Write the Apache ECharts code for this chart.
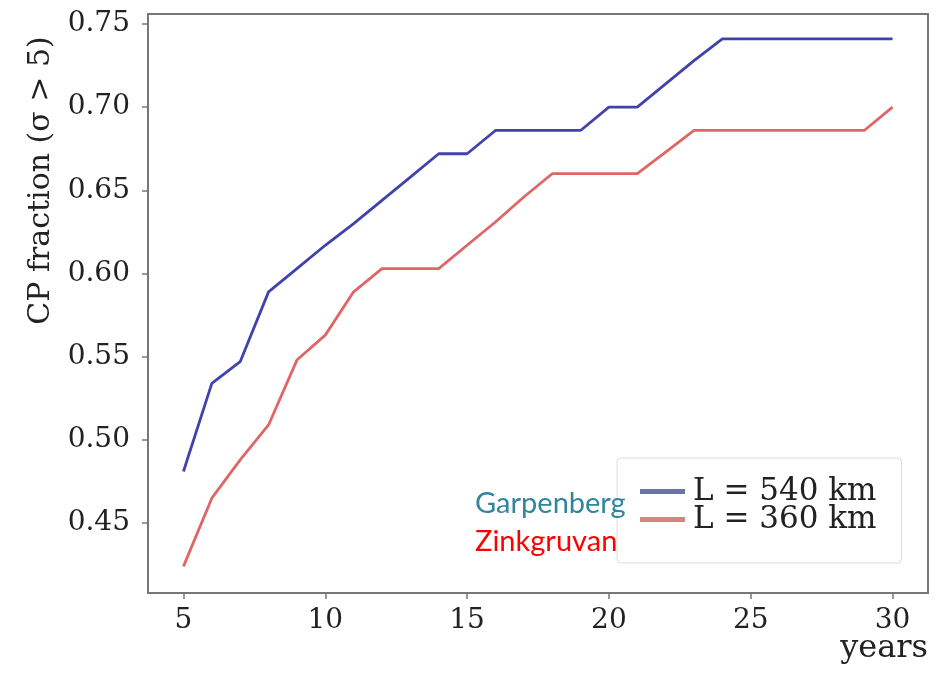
<!DOCTYPE html>
<html>
<head>
<meta charset="utf-8">
<script src="https://cdn.jsdelivr.net/npm/echarts@6/dist/echarts.min.js"></script>
<style>html,body{margin:0;padding:0;background:#fff}#c{width:942px;height:673px}</style>
</head>
<body>
<div id="c"></div>
<script>
const years = [5,6,7,8,9,10,11,12,13,14,15,16,17,18,19,20,21,22,23,24,25,26,27,28,29,30];
const garpenberg540 = [0.481,0.534,0.547,0.589,0.603,0.617,0.630,0.644,0.658,0.672,0.672,0.686,0.686,0.686,0.686,0.700,0.700,0.714,0.728,0.741,0.741,0.741,0.741,0.741,0.741,0.741];
const zinkgruvan360 = [0.424,0.465,0.488,0.509,0.548,0.563,0.589,0.603,0.603,0.603,0.617,0.631,0.646,0.660,0.660,0.660,0.660,0.673,0.686,0.686,0.686,0.686,0.686,0.686,0.686,0.700];
const xTicks = [5,10,15,20,25,30];
const yTicks = [0.45,0.50,0.55,0.60,0.65,0.70,0.75];
const seriesNames = ['L = 540 km','L = 360 km'];

const chart = echarts.init(document.getElementById('c'), null, {renderer:'canvas'});
const serif = 'DejaVu Serif';
const frame = '#777777';
chart.setOption({
  animation:false,
  backgroundColor:'#ffffff',
  grid:{left:148,right:14,top:14,bottom:80,containLabel:false,outerBoundsMode:'none',show:true,borderColor:frame,borderWidth:2,backgroundColor:'transparent'},
  xAxis:{
    type:'value',min:3.75,max:31.25,
    name:'years',nameLocation:'end',nameGap:0,nameMoveOverlap:false,
    nameTextStyle:{fontFamily:serif,fontSize:32,color:'#222',align:'right',verticalAlign:'top',padding:[40,0,0,0]},
    axisLine:{show:false},
    splitLine:{show:false},
    axisTick:{show:true,customValues:xTicks,length:6,lineStyle:{color:frame,width:1.5}},
    axisLabel:{customValues:xTicks,fontFamily:serif,fontSize:28,color:'#222',margin:14}
  },
  yAxis:{
    type:'value',min:0.408,max:0.756,
    name:'CP fraction (σ > 5)',nameLocation:'middle',nameGap:92,nameMoveOverlap:false,
    nameTextStyle:{fontFamily:serif,fontSize:30,color:'#222',padding:[0,0,0,246]},
    axisLine:{show:false},
    splitLine:{show:false},
    axisTick:{show:true,customValues:yTicks,length:6,lineStyle:{color:frame,width:1.5}},
    axisLabel:{customValues:yTicks,fontFamily:serif,fontSize:28,color:'#222',margin:18,formatter:v=>v.toFixed(2)}
  },
  legend:{
    orient:'vertical',left:617,top:458,
    padding:[18,25,28,23],itemGap:-3,
    itemWidth:45,itemHeight:5,icon:'rect',
    borderColor:'#dddddd',borderWidth:1,borderRadius:4,backgroundColor:'rgba(255,255,255,0.85)',
    textStyle:{fontFamily:serif,fontSize:31,color:'#222',lineHeight:28,padding:[0,0,0,3]},
    data:seriesNames
  },
  series:[
    {name:seriesNames[0],type:'line',showSymbol:false,data:years.map((x,i)=>[x,garpenberg540[i]]),lineStyle:{width:2.8,color:'#4242ac'},itemStyle:{color:'#6a72b0'}},
    {name:seriesNames[1],type:'line',showSymbol:false,data:years.map((x,i)=>[x,zinkgruvan360[i]]),lineStyle:{width:2.8,color:'#e06666'},itemStyle:{color:'#dc8080'}}
  ],
  graphic:[
    {type:'text',left:475,top:489,z:100,style:{text:'Garpenberg',fontFamily:'Lato',fontSize:29,fill:'#31859c'}},
    {type:'text',left:475,top:527,z:100,style:{text:'Zinkgruvan',fontFamily:'Lato',fontSize:29,fill:'#ff0000'}}
  ]
});
</script>
</body>
</html>
